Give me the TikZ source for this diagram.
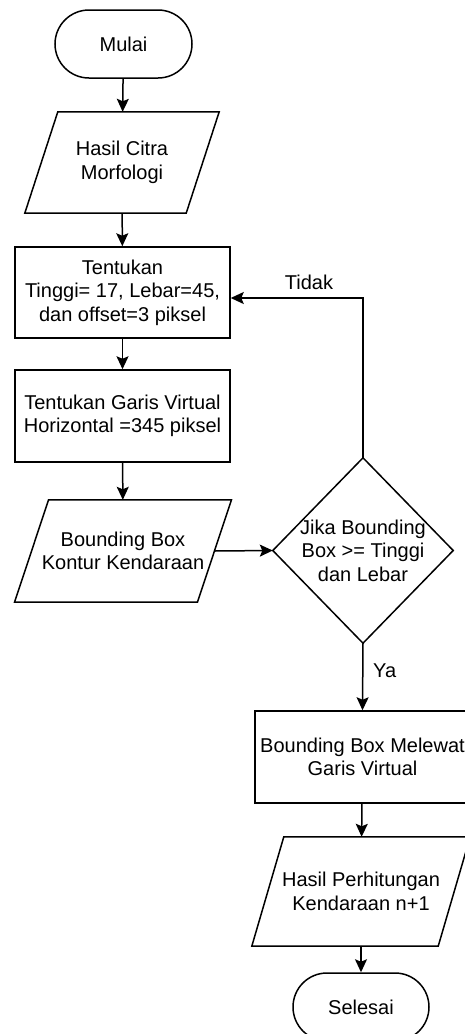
\documentclass[tikz,border=0pt]{standalone}
\usepackage{fontspec}
\setmainfont{Liberation Sans}
\usetikzlibrary{arrows.meta}
\begin{document}
\begin{tikzpicture}[x=1pt,y=-1pt,
  every node/.style={font=\fontsize{20}{23.5}\selectfont, align=center, inner sep=0pt, text=black},
  ln/.style={line width=1.5pt, black},
  arr/.style={ln, -{Stealth[length=13pt,width=12pt,inset=2.5pt]}},
  term/.style={draw, ln, rounded corners=34pt, minimum width=137pt, minimum height=68pt},
  proc/.style={draw, ln, minimum width=215pt, minimum height=91pt},
  hidden/.style={draw=none}
]
\useasboundingbox (0,0) rectangle (464,1034);

% nodes
\node[term] (mulai) at (123.5,44) {Mulai};
\node[hidden, minimum width=161pt, minimum height=101pt] (hc) at (122,162.5) {Hasil Citra\\Morfologi};
\node[proc] (t1) at (122.5,292.5) {Tentukan\\Tinggi= 17, Lebar=45,\\dan offset=3 piksel};
\node[proc, minimum height=92pt] (t2) at (122.5,416) {Tentukan Garis Virtual\\Horizontal =345 piksel};
\node[hidden, minimum width=182.5pt, minimum height=102pt] (bb) at (123,551) {Bounding Box\\Kontur Kendaraan};
\node[hidden, minimum width=180pt, minimum height=185pt] (dec) at (363,550.5) {Jika Bounding\\Box >= Tinggi\\dan Lebar};
\node[proc, minimum height=92pt] (mel) at (362.5,757) {Bounding Box Melewat\\Garis Virtual};
\node[hidden, minimum width=186pt, minimum height=109pt] (hp) at (361,891.5) {Hasil Perhitungan\\Kendaraan n+1};
\node[term, minimum width=136pt] (sel) at (361,1007) {Selesai};

% parallelograms
\draw[ln] ([xshift=16.5pt]hc.north west) -- ([xshift=16.5pt]hc.north east) -- ([xshift=-16.5pt]hc.south east) -- ([xshift=-16.5pt]hc.south west) -- cycle;
\draw[ln] ([xshift=17pt]bb.north west) -- ([xshift=17pt]bb.north east) -- ([xshift=-17pt]bb.south east) -- ([xshift=-17pt]bb.south west) -- cycle;
\draw[ln] ([xshift=16pt]hp.north west) -- ([xshift=16pt]hp.north east) -- ([xshift=-16pt]hp.south east) -- ([xshift=-16pt]hp.south west) -- cycle;
% diamond
\draw[ln] (dec.north) -- (dec.east) -- (dec.south) -- (dec.west) -- cycle;

% connectors
\draw[arr] (mulai) -- (hc);
\draw[arr] (hc) -- (t1);
\draw[arr] (t1) -- (t2);
\draw[arr] (t2) -- (bb);
\draw[arr] (bb.east) -- (dec.west);
\draw[arr] (dec.north) |- ([yshift=-5.5pt]t1.east);
\draw[arr] (dec.south) -- (mel.north);
\draw[arr] (mel) -- (hp);
\draw[arr] (hp) -- (sel);

% labels
\node (tidak) at (309,282) {Tidak};
\node[anchor=west] (ya) at (373,671) {Ya};
\end{tikzpicture}
\end{document}
